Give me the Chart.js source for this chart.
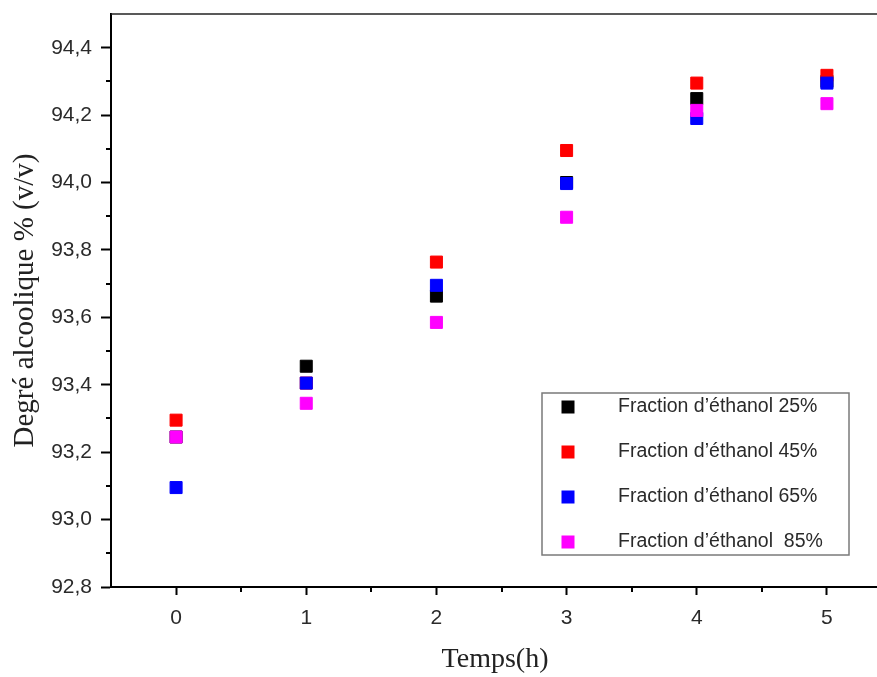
<!DOCTYPE html>
<html>
<head>
<meta charset="utf-8">
<script src="https://cdn.jsdelivr.net/npm/chart.js@4/dist/chart.umd.min.js"></script>
<style>
  html, body { margin: 0; padding: 0; background: #fff; overflow: hidden; }
  #wrap { width: 890px; height: 677px; position: relative; }
</style>
</head>
<body>
<div id="wrap"><canvas id="c"></canvas></div>
<script>
// Time of distillation (h)
const hours = [0, 1, 2, 3, 4, 5];

// Alcohol content % (v/v) for each ethanol fraction
const fraction25 = [93.245, 93.455, 93.663, 94.0, 94.249, 94.3];
const fraction45 = [93.295, 93.405, 93.764, 94.095, 94.295, 94.318];
const fraction65 = [93.095, 93.405, 93.695, 93.997, 94.19, 94.295];
const fraction85 = [93.245, 93.345, 93.585, 93.897, 94.214, 94.234];

const seriesLabels = [
  'Fraction d\u2019\u00e9thanol 25%',
  'Fraction d\u2019\u00e9thanol 45%',
  'Fraction d\u2019\u00e9thanol 65%',
  'Fraction d\u2019\u00e9thanol  85%'
];
const seriesColors = ['#000000', '#ff0000', '#0000ff', '#ff00ff'];

// Axis ticks
const xTicks = [0, 1, 2, 3, 4, 5];
const xMinorTicks = [0.5, 1.5, 2.5, 3.5, 4.5];
const yTicks = [92.8, 93.0, 93.2, 93.4, 93.6, 93.8, 94.0, 94.2, 94.4];
const yMinorTicks = [92.9, 93.1, 93.3, 93.5, 93.7, 93.9, 94.1, 94.3];

const allSeries = [fraction25, fraction45, fraction65, fraction85];

// Later series are painted over earlier ones
const datasets = allSeries.map((vals, i) => ({
  label: seriesLabels[i],
  data: hours.map((h, j) => ({ x: h, y: vals[j] })),
  order: allSeries.length - i,
  backgroundColor: seriesColors[i],
  borderColor: seriesColors[i],
  pointStyle: 'rect',
  pointRadius: 8.5,
  pointBorderWidth: 1,
  pointHoverRadius: 8.5,
  showLine: false
}));

// Short minor tick marks plus the top frame line
const frameAndMinorTicks = {
  id: 'frameAndMinorTicks',
  afterDraw(chart) {
    const { ctx, chartArea, scales } = chart;
    ctx.save();
    ctx.strokeStyle = '#000';
    ctx.lineWidth = 2;
    ctx.beginPath();
    xMinorTicks.forEach(v => {
      const px = Math.round(scales.x.getPixelForValue(v));
      ctx.moveTo(px, chartArea.bottom);
      ctx.lineTo(px, chartArea.bottom + 5);
    });
    yMinorTicks.forEach(v => {
      const py = Math.round(scales.y.getPixelForValue(v));
      ctx.moveTo(chartArea.left, py);
      ctx.lineTo(chartArea.left - 5, py);
    });
    ctx.stroke();
    ctx.lineWidth = 1.5;
    ctx.strokeStyle = '#222';
    ctx.beginPath();
    ctx.moveTo(chartArea.left, chartArea.top);
    ctx.lineTo(chartArea.right + 20, chartArea.top);
    ctx.stroke();
    ctx.restore();
  }
};

// Boxed legend inside the plot area
const boxedLegend = {
  id: 'boxedLegend',
  afterDraw(chart) {
    const { ctx } = chart;
    const box = { left: 542, top: 393, right: 849, bottom: 555 };
    const markerX = 568, textX = 618, firstRow = 407, rowGap = 45, side = 13;
    ctx.save();
    ctx.strokeStyle = '#7a7a7a';
    ctx.lineWidth = 1.5;
    ctx.strokeRect(box.left, box.top, box.right - box.left, box.bottom - box.top);
    ctx.font = '19.5px "Liberation Sans", Arial, sans-serif';
    ctx.textBaseline = 'middle';
    ctx.textAlign = 'left';
    chart.data.datasets.forEach((ds, i) => {
      const y = firstRow + i * rowGap;
      ctx.fillStyle = ds.backgroundColor;
      ctx.fillRect(markerX - side / 2, y - side / 2, side, side);
      ctx.fillStyle = '#2a2a2a';
      ctx.fillText(ds.label, textX, y);
    });
    ctx.restore();
  }
};

const commaFormat = v => v.toFixed(1).replace('.', ',');

new Chart(document.getElementById('c'), {
  type: 'scatter',
  data: { datasets },
  plugins: [frameAndMinorTicks, boxedLegend],
  options: {
    responsive: true,
    maintainAspectRatio: false,
    animation: false,
    devicePixelRatio: 1,
    events: [],
    layout: { padding: { top: 14, right: 11, left: 0, bottom: 0 } },
    plugins: { legend: { display: false }, tooltip: { enabled: false } },
    scales: {
      x: {
        type: 'linear',
        min: -0.5,
        max: 5.4,
        afterBuildTicks: s => { s.ticks = xTicks.map(v => ({ value: v })); },
        afterFit: s => { s.height = 90; s.paddingLeft = 0; s.paddingRight = 0; },
        ticks: {
          autoSkip: false,
          maxRotation: 0,
          padding: 11,
          color: '#2a2a2a',
          font: { family: '"Liberation Sans", Arial, sans-serif', size: 21 },
          callback: v => String(v)
        },
        grid: { drawOnChartArea: false, drawTicks: true, tickLength: 8, tickColor: '#000', tickWidth: 2 },
        border: { display: true, color: '#000', width: 2 },
        title: {
          display: true,
          text: 'Temps(h)',
          color: '#222',
          font: { family: '"Liberation Serif", "Times New Roman", serif', size: 28 },
          padding: { top: 0, bottom: 1 }
        }
      },
      y: {
        type: 'linear',
        min: 92.8,
        max: 94.5,
        afterBuildTicks: s => { s.ticks = yTicks.map(v => ({ value: v })); },
        afterFit: s => { s.width = 111; s.paddingTop = 0; s.paddingBottom = 0; },
        ticks: {
          autoSkip: false,
          padding: 9,
          color: '#2a2a2a',
          font: { family: '"Liberation Sans", Arial, sans-serif', size: 21 },
          callback: v => commaFormat(v)
        },
        grid: { drawOnChartArea: false, drawTicks: true, tickLength: 10, tickColor: '#000', tickWidth: 2 },
        border: { display: true, color: '#000', width: 2 },
        title: {
          display: true,
          text: 'Degré alcoolique % (v/v)',
          color: '#222',
          font: { family: '"Liberation Serif", "Times New Roman", serif', size: 29 },
          padding: { top: 8, bottom: 0 }
        }
      }
    }
  }
});
</script>
</body>
</html>
